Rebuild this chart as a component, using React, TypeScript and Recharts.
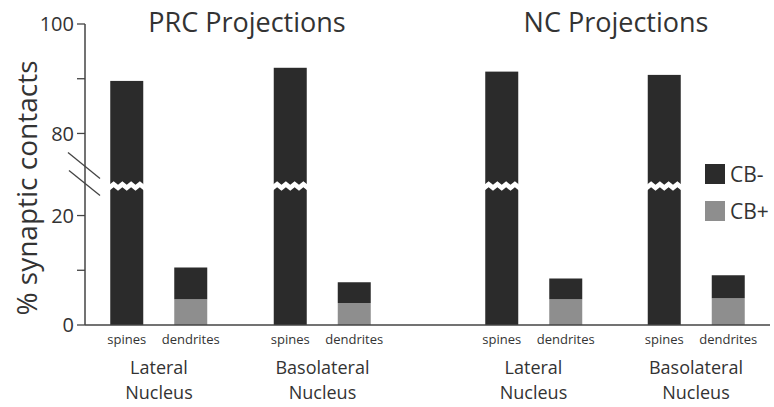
import { BarChart, Bar, XAxis, YAxis, Legend, LabelList } from 'recharts';

const nuclei = ['Lateral Nucleus', 'Basolateral Nucleus'];

const prcSpines = [89.6, 92.0];
const prcDendritesCBpos = [4.7, 4.0];
const prcDendritesCBneg = [5.8, 3.8];

const ncSpines = [91.3, 90.7];
const ncDendritesCBpos = [4.7, 4.9];
const ncDendritesCBneg = [3.8, 4.2];

const yTicks = [0, 10, 20, 80, 90, 100];
const yTickLabels = ['0', '', '20', '80', '', '100'];
const legendItems = ['CB-', 'CB+'];

const DARK = '#2b2b2b';
const GRAY = '#8e8e8e';
const INK = '#333333';
const FONT = '"Open Sans", sans-serif';

// layout
const PLOT_TOP = 24;
const X_AXIS_H = 82;
const CHART_H = 407;
const PLOT_H = CHART_H - PLOT_TOP - X_AXIS_H;
const Y_AXIS_W = 85;

// broken axis: 20..80 is squeezed into a short gap
const LOW = 20;
const HIGH = 80;
const GAP = 15;
const toAxis = (v: number) =>
    v <= LOW ? v : v >= HIGH ? v - HIGH + LOW + GAP : LOW + ((v - LOW) * GAP) / (HIGH - LOW);
const Y_MAX = toAxis(100);
const BREAK_AT = 25.4; // axis units where the tall bars get the zigzag cut

const buildRows = (spines: number[], cbPos: number[], cbNeg: number[]) =>
    nuclei.map((nucleus, i) => ({
        nucleus,
        spines: toAxis(spines[i]),
        cbPos: cbPos[i],
        cbNeg: cbNeg[i],
    }));

const prcData = buildRows(prcSpines, prcDendritesCBpos, prcDendritesCBneg);
const ncData = buildRows(ncSpines, ncDendritesCBpos, ncDendritesCBneg);

const SpineBar = (props: any) => {
    const { x, y, width, height, payload } = props;
    const bottom = y + height;
    const yb = bottom - (BREAK_AT * height) / payload.spines;
    const steps = 8;
    const top: string[] = [];
    const low: string[] = [];
    for (let k = 0; k <= steps; k++) {
        const px = x - 1 + (k * (width + 2)) / steps;
        const z = k % 2 === 0 ? 1.8 : -1.8;
        top.push(`${px},${yb - 3 + z}`);
        low.unshift(`${px},${yb + 3 + z}`);
    }
    return (
        <g>
            <rect x={x} y={y} width={width} height={height} fill={DARK} />
            <polygon points={[...top, ...low].join(' ')} fill="#fff" />
        </g>
    );
};

const subLabel = (text: string) => (props: any) => {
    const { x, y, width, height } = props;
    return (
        <text x={x + width / 2} y={y + height + 19} textAnchor="middle" fontSize={13} fill={INK} fontFamily={FONT}>
            {text}
        </text>
    );
};

const NucleusTick = ({ x, y, payload }: any) => {
    const lines = String(payload.value).split(' ');
    return (
        <text textAnchor="middle" fill={INK} fontSize={18} fontFamily={FONT}>
            {lines.map((l, i) => (
                <tspan key={i} x={x} y={y + 49 + i * 25}>
                    {l}
                </tspan>
            ))}
        </text>
    );
};

const AxisDecor = () => {
    const ax = Y_AXIS_W;
    const c = PLOT_TOP + PLOT_H * (1 - (LOW + GAP / 2) / Y_MAX);
    const ty = PLOT_TOP + PLOT_H * 0.545;
    return (
        <g>
            <line x1={ax - 17} y1={c - 22} x2={ax + 15} y2={c + 4} stroke="#444" strokeWidth={1.3} />
            <line x1={ax - 16} y1={c - 4} x2={ax + 15} y2={c + 21} stroke="#444" strokeWidth={1.3} />
            <text
                x={26}
                y={ty}
                transform={`rotate(-90 26 ${ty})`}
                textAnchor="middle"
                dominantBaseline="central"
                fontSize={28}
                fill={INK}
                fontFamily={FONT}
            >
                % synaptic contacts
            </text>
        </g>
    );
};

const LegendBox = () => (
    <div style={{ fontFamily: FONT }}>
        {legendItems.map((name, i) => (
            <div key={name} style={{ display: 'flex', alignItems: 'center', height: 20, marginBottom: 17 }}>
                <span style={{ width: 20, height: 20, background: i === 0 ? DARK : GRAY, display: 'inline-block' }} />
                <span style={{ marginLeft: 5, fontSize: 21, color: INK, lineHeight: '20px' }}>{name}</span>
            </div>
        ))}
    </div>
);

const Panel = ({ data, width, showY, padding, legend }: any) => (
    <BarChart
        width={width}
        height={CHART_H}
        data={data}
        margin={{ top: PLOT_TOP, right: showY ? 0 : 4, left: 0, bottom: 0 }}
        barSize={33}
        barGap={31}
    >
        <XAxis
            dataKey="nucleus"
            height={X_AXIS_H}
            tickSize={0}
            tickMargin={0}
            tickLine={false}
            tick={<NucleusTick />}
            axisLine={{ stroke: '#444', strokeWidth: 1.5 }}
            padding={padding}
            interval={0}
        />
        <YAxis
            hide={!showY}
            width={Y_AXIS_W}
            domain={[0, Y_MAX]}
            ticks={yTicks.map(toAxis)}
            tickFormatter={(_v: number, i: number) => yTickLabels[i]}
            tick={{ fill: INK, fontSize: 20, fontFamily: FONT }}
            tickSize={8}
            tickMargin={3}
            tickLine={{ stroke: '#444', strokeWidth: 1.3 }}
            axisLine={{ stroke: '#444', strokeWidth: 1.5 }}
            label={showY ? { content: AxisDecor } : undefined}
        />
        {legend && (
            <Legend
                layout="vertical"
                align="center"
                verticalAlign="middle"
                content={<LegendBox />}
                wrapperStyle={{ left: 275, top: 164, width: 70 }}
            />
        )}
        <Bar dataKey="spines" name="CB-" stackId="sp" fill={DARK} shape={<SpineBar />} isAnimationActive={false}>
            <LabelList content={subLabel('spines')} />
        </Bar>
        <Bar dataKey="cbPos" name="CB+" stackId="dn" fill={GRAY} isAnimationActive={false}>
            <LabelList content={subLabel('dendrites')} />
        </Bar>
        <Bar dataKey="cbNeg" name="CB-" stackId="dn" fill={DARK} isAnimationActive={false} />
    </BarChart>
);

const Title = ({ text, center }: { text: string; center: number }) => (
    <div
        style={{
            position: 'absolute',
            left: center - 150,
            top: 2,
            width: 300,
            textAlign: 'center',
            fontFamily: FONT,
            fontSize: 27,
            lineHeight: '40px',
            color: INK,
        }}
    >
        {text}
    </div>
);

export default function App() {
    return (
        <div style={{ position: 'absolute', left: 0, top: 0, width: 774, height: 407, background: '#fff' }}>
            <div style={{ position: 'absolute', left: 0, top: 0 }}>
                <Panel data={prcData} width={430} showY padding={{ left: -7.75, right: 25.75 }} />
            </div>
            <div style={{ position: 'absolute', left: 430, top: 0 }}>
                <Panel data={ncData} width={344} showY={false} padding={{ left: 22.25, right: -7.25 }} legend />
            </div>
            <Title text="PRC Projections" center={247} />
            <Title text="NC Projections" center={616} />
        </div>
    );
}
